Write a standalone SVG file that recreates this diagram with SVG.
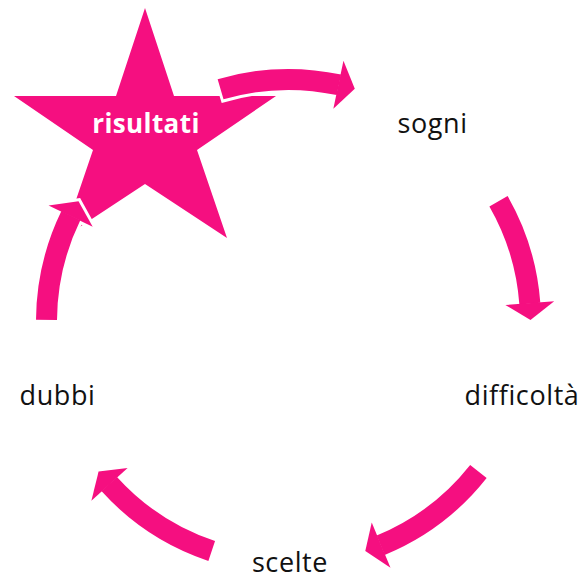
<svg xmlns="http://www.w3.org/2000/svg" width="584" height="578" viewBox="0 0 584 578">
<style>
.lbl{font-family:"Open Sans","Noto Sans",sans-serif;font-size:27px;letter-spacing:0.6px;fill:#111;text-anchor:middle}
.star-lbl{font-family:"Open Sans","Noto Sans",sans-serif;font-size:26px;letter-spacing:0.4px;font-weight:bold;fill:#fff;text-anchor:middle}
.pink{fill:#F50F80}
.ob{fill:none;stroke:#fff;stroke-width:27}
.oh{fill:#fff;stroke:#fff;stroke-width:6;stroke-linejoin:miter}
.pb{fill:none;stroke:#F50F80;stroke-width:21}
.ph{fill:#F50F80}
</style>
<defs>
<polygon id="head" points="266.5,0 241.41,16.88 217.5,0"/>
</defs>
<rect width="584" height="578" fill="#fff"/>
<g id="node-risultati">
<polygon class="pink" points="145,8 174,96 276,96 197,150 227,238 145,184 63,238 93,150 14,96 116,96"/>
<text class="star-lbl" x="146" y="133">risultati</text>
</g>
<g id="node-sogni"><text class="lbl" x="432.5" y="133">sogni</text></g>
<g id="node-difficolta"><text class="lbl" x="522" y="405">difficoltà</text></g>
<g id="node-scelte"><text class="lbl" x="290" y="572">scelte</text></g>
<g id="node-dubbi"><text class="lbl" x="57.5" y="405">dubbi</text></g>
<g id="connectors" transform="translate(288.5,321.5)">
<g id="outlines">
<circle class="ob" r="242" transform="rotate(253.0)" stroke-dasharray="122.1 2000"/>
<use href="#head" class="oh" transform="rotate(281.9)"/>
<circle class="ob" r="242" transform="rotate(329.5)" stroke-dasharray="110.5 2000"/>
<use href="#head" class="oh" transform="rotate(355.65)"/>
<circle class="ob" r="242" transform="rotate(37.6)" stroke-dasharray="126.3 2000"/>
<use href="#head" class="oh" transform="rotate(67.5)"/>
<circle class="ob" r="242" transform="rotate(107.8)" stroke-dasharray="126.3 2000"/>
<use href="#head" class="oh" transform="rotate(137.7)"/>
<circle class="ob" r="242" transform="rotate(179.7)" stroke-dasharray="110.2 2000"/>
<use href="#head" class="oh" transform="rotate(205.8)"/>
</g>
<g id="arrow-risultati-sogni">
<circle class="pb" r="242" transform="rotate(253.7)" stroke-dasharray="119.6 2000"/>
<use href="#head" class="ph" transform="rotate(281.9)"/>
</g>
<g id="arrow-sogni-difficolta">
<circle class="pb" r="242" transform="rotate(330.2)" stroke-dasharray="108 2000"/>
<use href="#head" class="ph" transform="rotate(355.65)"/>
</g>
<g id="arrow-difficolta-scelte">
<circle class="pb" r="242" transform="rotate(38.3)" stroke-dasharray="123.8 2000"/>
<use href="#head" class="ph" transform="rotate(67.5)"/>
</g>
<g id="arrow-scelte-dubbi">
<circle class="pb" r="242" transform="rotate(108.5)" stroke-dasharray="123.8 2000"/>
<use href="#head" class="ph" transform="rotate(137.7)"/>
</g>
<g id="arrow-dubbi-risultati">
<circle class="pb" r="242" transform="rotate(180.4)" stroke-dasharray="107.8 2000"/>
<use href="#head" class="ph" transform="rotate(205.8)"/>
</g>
</g>
</svg>
